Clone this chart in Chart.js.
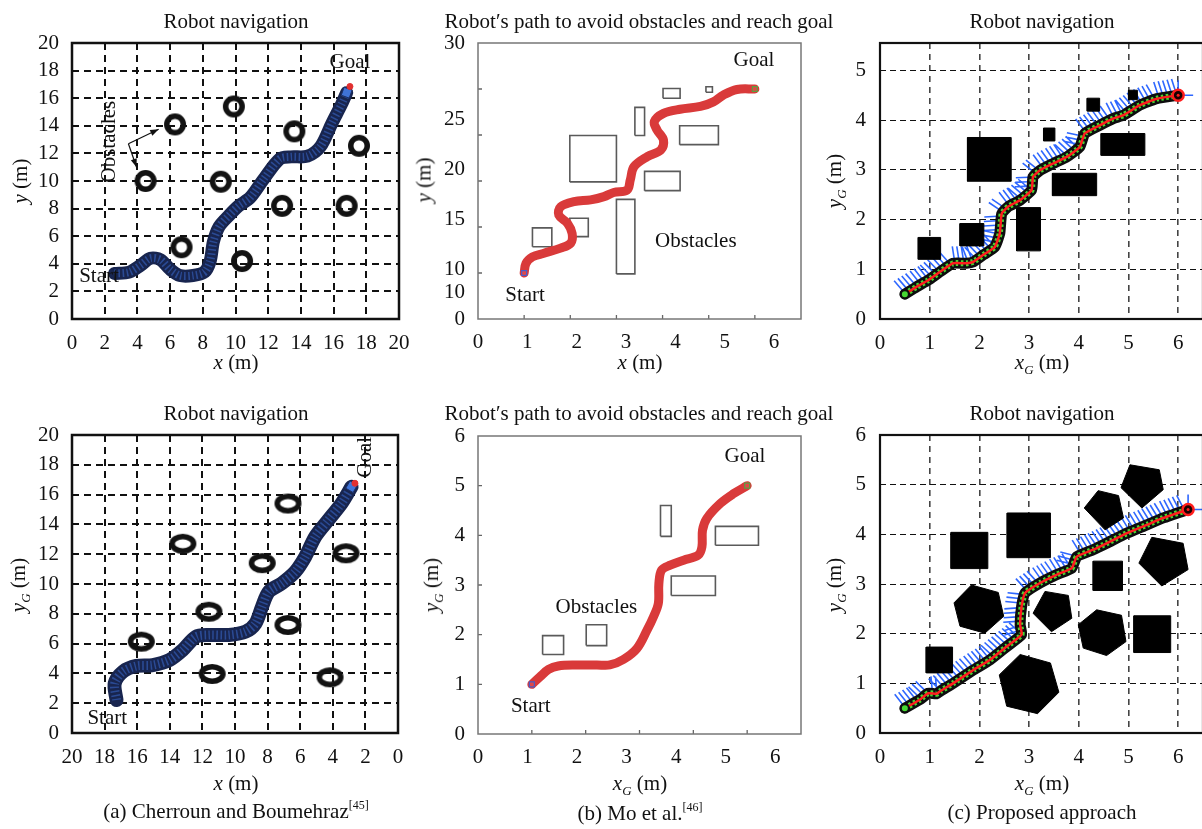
<!DOCTYPE html>
<html lang="en">
<head>
<meta charset="utf-8">
<title>Robot navigation</title>
<script src="https://cdn.jsdelivr.net/npm/chart.js@4.4.1/dist/chart.umd.min.js"></script>
<style>
  html, body { margin: 0; padding: 0; background: #fff; }
  body { position: relative; width: 1202px; height: 829px; overflow: hidden;
         font-family: "Liberation Serif", "Times New Roman", serif; color: #111; }
  canvas { position: absolute; }
  .lbl { position: absolute; font-size: 21px; line-height: 1; white-space: nowrap; transform: translate(-50%, -50%); }
  .rot { transform: translate(-50%, -50%) rotate(-90deg); }
  .lbl sub { font-size: 13px; vertical-align: -5px; }
  .lbl sup { font-size: 12px; vertical-align: 9px; }
</style>
</head>
<body>
<canvas id="aTop"></canvas>
<canvas id="bTop"></canvas>
<canvas id="cTop"></canvas>
<canvas id="aBot"></canvas>
<canvas id="bBot"></canvas>
<canvas id="cBot"></canvas>

<div class="lbl" style="left:236px;top:21px">Robot navigation</div>
<div class="lbl" style="left:639px;top:21px">Robot′s path to avoid obstacles and reach goal</div>
<div class="lbl" style="left:1042px;top:21px">Robot navigation</div>
<div class="lbl" style="left:236px;top:413px">Robot navigation</div>
<div class="lbl" style="left:639px;top:413px">Robot′s path to avoid obstacles and reach goal</div>
<div class="lbl" style="left:1042px;top:413px">Robot navigation</div>

<div class="lbl rot" style="left:20px;top:181px"><i>y</i> (m)</div>
<div class="lbl rot" style="left:424px;top:180px"><i>y</i> (m)</div>
<div class="lbl rot" style="left:836px;top:181px"><i>y<sub>G</sub></i> (m)</div>
<div class="lbl rot" style="left:20px;top:585px"><i>y<sub>G</sub></i> (m)</div>
<div class="lbl rot" style="left:433px;top:585px"><i>y<sub>G</sub></i> (m)</div>
<div class="lbl rot" style="left:836px;top:585px"><i>y<sub>G</sub></i> (m)</div>

<div class="lbl" style="left:236px;top:362px"><i>x</i> (m)</div>
<div class="lbl" style="left:640px;top:362px"><i>x</i> (m)</div>
<div class="lbl" style="left:1042px;top:364px"><i>x<sub>G</sub></i> (m)</div>
<div class="lbl" style="left:236px;top:783px"><i>x</i> (m)</div>
<div class="lbl" style="left:640px;top:785px"><i>x<sub>G</sub></i> (m)</div>
<div class="lbl" style="left:1042px;top:785px"><i>x<sub>G</sub></i> (m)</div>

<div class="lbl" style="left:236px;top:810px">(a) Cherroun and Boumehraz<sup>[45]</sup></div>
<div class="lbl" style="left:640px;top:812px">(b) Mo et al.<sup>[46]</sup></div>
<div class="lbl" style="left:1042px;top:812px">(c) Proposed approach</div>

<script>
// ---------- (a) ring obstacles, paths in metres ----------
const aTopRingX = [4.5, 6.3, 9.9, 9.1, 6.7, 10.4, 12.85, 13.6, 17.55, 16.8];
const aTopRingY = [10, 14.1, 15.4, 9.95, 5.2, 4.2, 8.2, 13.6, 12.55, 8.2];
const aTopPathX = [2.6, 3.5, 4.2, 4.8, 5.4, 6.0, 6.6, 7.4, 8.1, 8.45, 8.65, 9.0, 9.6, 10.2, 10.9, 11.7, 12.7, 13.4, 14.4, 15.2, 15.9, 16.5, 16.8];
const aTopPathY = [3.3, 3.4, 3.9, 4.4, 4.3, 3.6, 3.15, 3.15, 3.4, 4.2, 5.6, 6.7, 7.5, 8.2, 8.8, 10.1, 11.6, 11.75, 11.8, 12.5, 14.2, 15.6, 16.4];

const aBotRingX = [15.75, 13.2, 11.6, 11.4, 6.75, 8.33, 6.75, 3.19, 4.17];
const aBotRingY = [6.13, 12.7, 8.14, 3.96, 15.4, 11.4, 7.25, 12.06, 3.74];
const aBotPathX = [17.27, 17.38, 16.87, 16.05, 15.04, 14.02, 13.21, 12.4, 11.59, 10.37, 9.35, 8.74, 8.34, 7.93, 7.12, 6.3, 5.69, 5.08, 4.27, 3.46, 2.85];
const aBotPathY = [2.21, 3.33, 4.12, 4.5, 4.56, 4.9, 5.57, 6.46, 6.58, 6.58, 6.8, 7.36, 8.48, 9.48, 10.05, 10.83, 11.83, 13.17, 14.3, 15.42, 16.53];
const aTicks = [0, 2, 4, 6, 8, 10, 12, 14, 16, 18, 20];

// ---------- (b) outlined rectangles [x0, x1, y0, y1] ----------
const bTopRects = [[1.18, 1.6, 1.57, 1.98], [1.99, 2.39, 1.79, 2.19], [1.99, 3.0, 2.98, 3.99], [3.0, 3.4, 0.98, 2.6],
  [3.61, 4.38, 2.79, 3.21], [3.4, 3.61, 3.99, 4.6], [4.37, 5.21, 3.79, 4.2], [4.01, 4.38, 4.8, 5.01], [4.94, 5.08, 4.93, 5.05]];
const bTopPathX = [1, 1.04, 1.18, 1.43, 1.79, 2.01, 2.04, 1.94, 1.75, 1.79, 2.08, 2.44, 2.73, 2.94, 3.23, 3.3, 3.38, 3.67, 3.96, 4.02, 3.88, 3.82, 4.02, 4.38, 4.82, 5.1, 5.32, 5.61, 6.0];
const bTopPathY = [1, 1.21, 1.35, 1.43, 1.54, 1.65, 1.86, 2.08, 2.26, 2.44, 2.55, 2.59, 2.66, 2.75, 2.8, 3.02, 3.31, 3.53, 3.67, 3.89, 4.11, 4.29, 4.47, 4.56, 4.62, 4.72, 4.87, 4.99, 5.0];
const bTopYTickPos = [0, 2.93, 5.43, 10.87, 16.3, 21.74, 30];
const bTopYTickText = ['0', '10', '10', '15', '20', '25', '30'];
const bTopMarksX = [1, 2, 3, 4, 5, 6];
const bTopMarksY = [1, 2, 3, 4, 5];

const bBotRects = [[1.2, 1.59, 1.6, 1.98], [2.01, 2.39, 1.78, 2.2], [3.39, 3.59, 3.98, 4.6], [3.59, 4.41, 2.79, 3.18], [4.41, 5.21, 3.8, 4.18]];
const bBotPathX = [1, 1.15, 1.31, 1.49, 1.83, 2.21, 2.45, 2.7, 2.95, 3.14, 3.26, 3.35, 3.36, 3.41, 3.57, 3.82, 4.09, 4.16, 4.17, 4.25, 4.5, 4.75, 5.0];
const bBotPathY = [1, 1.15, 1.3, 1.37, 1.39, 1.39, 1.39, 1.5, 1.72, 2.09, 2.36, 2.63, 3.03, 3.3, 3.4, 3.5, 3.6, 3.77, 4.1, 4.34, 4.64, 4.84, 5.0];
const bBotMarksX = [1, 2, 3, 4, 5];
const bBotMarksY = [1, 2, 3, 4, 5];
const bLabelTicks = [0, 1, 2, 3, 4, 5, 6];

// ---------- (c) filled obstacles and planned path ----------
const cTopRects = [[0.77, 1.22, 1.2, 1.64], [1.61, 2.09, 1.47, 1.92], [1.76, 2.64, 2.77, 3.65], [2.75, 3.23, 1.37, 2.24],
  [3.47, 4.36, 2.48, 2.93], [3.29, 3.52, 3.58, 3.84], [4.17, 4.42, 4.18, 4.44], [4.45, 5.33, 3.29, 3.73], [5.0, 5.18, 4.41, 4.6]];
const cTopPathX = [0.5, 0.74, 0.97, 1.21, 1.47, 1.74, 1.88, 2.08, 2.31, 2.41, 2.45, 2.58, 2.82, 3.05, 3.08, 3.22, 3.49, 3.76, 4.02, 4.12, 4.43, 4.69, 4.9, 5.23, 5.57, 6.0];
const cTopPathY = [0.5, 0.65, 0.78, 0.95, 1.12, 1.12, 1.15, 1.29, 1.45, 1.72, 2.12, 2.26, 2.39, 2.59, 2.86, 2.99, 3.13, 3.26, 3.46, 3.73, 3.9, 4.03, 4.1, 4.3, 4.43, 4.5];

const cBotRects = [[0.93, 1.46, 1.21, 1.73], [1.43, 2.17, 3.31, 4.04], [2.56, 3.43, 3.53, 4.43], [4.29, 4.88, 2.87, 3.46], [5.11, 5.85, 1.62, 2.36]];
const cBotPolys = [
  [[4.39, 4.88], [4.8, 4.78], [4.9, 4.33], [4.53, 4.09], [4.11, 4.53]],
  [[5.03, 5.4], [5.62, 5.3], [5.7, 4.9], [5.27, 4.53], [4.85, 4.94]],
  [[5.47, 3.94], [6.1, 3.82], [6.2, 3.29], [5.67, 2.96], [5.21, 3.42]],
  [[1.84, 2.98], [2.38, 2.83], [2.49, 2.35], [2.11, 2.01], [1.61, 2.15], [1.49, 2.62]],
  [[3.32, 2.85], [3.79, 2.77], [3.86, 2.31], [3.45, 2.04], [3.08, 2.41]],
  [[4.36, 2.48], [4.86, 2.37], [4.95, 1.84], [4.56, 1.56], [4.09, 1.71], [3.99, 2.18]],
  [[2.82, 1.58], [3.43, 1.41], [3.6, 0.82], [3.17, 0.39], [2.55, 0.54], [2.4, 1.17]]
];
const cBotPathX = [0.5, 0.8, 0.97, 1.14, 1.21, 1.47, 1.88, 2.21, 2.55, 2.85, 2.82, 2.85, 2.92, 3.22, 3.56, 3.86, 3.96, 4.29, 4.56, 4.96, 5.37, 5.7, 6.2];
const cBotPathY = [0.5, 0.67, 0.8, 0.79, 0.84, 1.0, 1.27, 1.47, 1.74, 1.98, 2.18, 2.55, 2.82, 3.02, 3.19, 3.32, 3.55, 3.69, 3.82, 4.02, 4.19, 4.33, 4.5];
const cTicksX = [0, 1, 2, 3, 4, 5, 6];
const cTopTicksY = [0, 1, 2, 3, 4, 5];
const cBotTicksY = [0, 1, 2, 3, 4, 5, 6];

// ---------- helpers ----------
const PAD_L = 70, PAD_T = 12, PAD_R = 12, AXIS_H = 40;
Chart.defaults.font.family = '"Liberation Serif", "Times New Roman", serif';
Chart.defaults.font.size = 21;
Chart.defaults.color = '#111';

const pairs = (xs, ys) => xs.map((x, i) => ({ x, y: ys[i] }));
const closed = pts => pts.concat([pts[0]]).map(([x, y]) => ({ x, y }));
const rectPts = ([x0, x1, y0, y1]) => closed([[x0, y0], [x1, y0], [x1, y1], [x0, y1]]);

function ringImage(w, h, t) {
  const c = document.createElement('canvas');
  c.width = w + 4; c.height = h + 4;
  const g = c.getContext('2d');
  g.filter = 'blur(0.6px)';
  g.strokeStyle = '#121212';
  g.lineWidth = t;
  g.beginPath();
  g.ellipse(c.width / 2, c.height / 2, (w - t) / 2, (h - t) / 2, 0, 0, Math.PI * 2);
  g.stroke();
  return c;
}

function axis(min, max, tickVals, o = {}) {
  return {
    type: 'linear', min, max, reverse: !!o.reverse, display: o.display !== false,
    afterBuildTicks: s => { s.ticks = tickVals.map(v => ({ value: v })); },
    ticks: { autoSkip: false, maxRotation: 0, padding: o.pad || 12, callback: o.text ? (v, i) => o.text[i] : v => String(v) },
    grid: o.grid ? Object.assign({ drawTicks: false }, o.grid) : { display: false, drawTicks: false },
    border: { display: false, dash: o.dash || [] }
  };
}

const path = (xs, ys, color, width, extra) => Object.assign({
  data: pairs(xs, ys), showLine: true, borderColor: color, borderWidth: width, pointRadius: 0,
  tension: 0.35, borderCapStyle: 'round', borderJoinStyle: 'round'
}, extra || {});

const shape = (pts, stroke, fillColor, width) => ({
  data: pts, showLine: true, borderColor: stroke, borderWidth: width, pointRadius: 0, tension: 0,
  backgroundColor: fillColor || 'transparent', fill: fillColor ? 'shape' : false
});

const marker = (x, y, style, r, fillColor, stroke, bw, rot) => ({
  data: [{ x, y }], pointStyle: style, pointRadius: r, backgroundColor: fillColor,
  borderColor: stroke, borderWidth: bw, pointRotation: rot || 0
});

// per-chart drawing: frame, inner tick marks, notes, arrows, hatching along a path
function decor(o) {
  return {
    id: 'decor',
    beforeDatasetsDraw(chart) {
      if (!o.hatch) return;
      const { ctx } = chart;
      const pts = chart.getDatasetMeta(o.hatch.index).data.map(p => [p.x, p.y]);
      ctx.save();
      ctx.strokeStyle = o.hatch.color;
      ctx.lineWidth = 1.6;
      ctx.beginPath();
      let carry = 0;
      for (let i = 1; i < pts.length; i++) {
        const [x0, y0] = pts[i - 1], [x1, y1] = pts[i];
        const len = Math.hypot(x1 - x0, y1 - y0);
        if (!len) continue;
        const ux = (x1 - x0) / len, uy = (y1 - y0) / len;
        const nx = uy, ny = -ux;
        let s = carry;
        while (s < len) {
          const px = x0 + ux * s, py = y0 + uy * s;
          ctx.moveTo(px + nx * 4, py + ny * 4);
          ctx.lineTo(px + nx * 17 - ux * 2, py + ny * 17 - uy * 2);
          s += o.hatch.step;
        }
        carry = s - len;
      }
      const [gx, gy] = pts[pts.length - 1];
      ctx.moveTo(gx, gy); ctx.lineTo(gx + 15, gy);
      ctx.moveTo(gx, gy); ctx.lineTo(gx, gy - 15);
      ctx.stroke();
      ctx.restore();
    },
    afterDatasetsDraw(chart) {
      const { ctx, chartArea: a, scales } = chart;
      const sx = scales[o.xScale || 'x'], sy = scales[o.yScale || 'y'];
      ctx.save();
      if (o.marks) {
        ctx.strokeStyle = '#666';
        ctx.lineWidth = 1.3;
        ctx.beginPath();
        o.marks.x.forEach(v => { const p = sx.getPixelForValue(v); ctx.moveTo(p, a.bottom); ctx.lineTo(p, a.bottom - 4); });
        o.marks.y.forEach(v => { const p = sy.getPixelForValue(v); ctx.moveTo(a.left, p); ctx.lineTo(a.left + 4, p); });
        ctx.stroke();
      }
      (o.arrows || []).forEach(ar => {
        const x0 = sx.getPixelForValue(ar.from[0]), y0 = sy.getPixelForValue(ar.from[1]);
        const x1 = sx.getPixelForValue(ar.to[0]), y1 = sy.getPixelForValue(ar.to[1]);
        const ang = Math.atan2(y1 - y0, x1 - x0);
        ctx.strokeStyle = '#111'; ctx.fillStyle = '#111'; ctx.lineWidth = 1.2;
        ctx.beginPath(); ctx.moveTo(x0, y0); ctx.lineTo(x1, y1); ctx.stroke();
        ctx.beginPath();
        ctx.moveTo(x1, y1);
        ctx.lineTo(x1 - 9 * Math.cos(ang - 0.35), y1 - 9 * Math.sin(ang - 0.35));
        ctx.lineTo(x1 - 9 * Math.cos(ang + 0.35), y1 - 9 * Math.sin(ang + 0.35));
        ctx.closePath(); ctx.fill();
      });
      (o.notes || []).forEach(n => {
        ctx.save();
        ctx.translate(sx.getPixelForValue(n.x), sy.getPixelForValue(n.y));
        ctx.rotate((n.rot || 0) * Math.PI / 180);
        ctx.font = '21px "Liberation Serif", "Times New Roman", serif';
        ctx.fillStyle = '#111';
        ctx.textAlign = 'center';
        ctx.textBaseline = 'middle';
        ctx.fillText(n.text, 0, 0);
        ctx.restore();
      });
      if (o.frame) {
        ctx.strokeStyle = o.frame.color;
        ctx.lineWidth = o.frame.width;
        ctx.strokeRect(a.left, a.top, a.right - a.left, a.bottom - a.top);
      }
      ctx.restore();
    }
  };
}

function panel(id, box, scales, datasets, deco) {
  const cv = document.getElementById(id);
  cv.width = box.r - box.l + PAD_L + PAD_R;
  cv.height = box.b - box.t + PAD_T + AXIS_H;
  cv.style.left = (box.l - PAD_L) + 'px';
  cv.style.top = (box.t - PAD_T) + 'px';
  // fixed axis sizes, and no extra room reserved for overhanging end labels
  scales.x.afterFit = s => { s.height = AXIS_H; s.paddingLeft = 0; s.paddingRight = 0; };
  scales.y.afterFit = s => { s.width = PAD_L; s.paddingTop = 0; s.paddingBottom = 0; };
  // later datasets are painted over earlier ones
  datasets.forEach((ds, i) => { ds.order = datasets.length - i; });
  return new Chart(cv, {
    type: 'scatter',
    data: { datasets },
    options: {
      responsive: false, animation: false, events: [], devicePixelRatio: 1,
      layout: { padding: { left: 0, top: PAD_T, right: PAD_R, bottom: 0 }, autoPadding: false },
      plugins: { legend: { display: false }, tooltip: { enabled: false } },
      scales
    },
    plugins: [decor(deco)]
  });
}

const aGrid = { color: '#111', lineWidth: 2 };
const aDash = [7, 5];

// (a) top
panel('aTop', { l: 72, t: 43, r: 399, b: 319 }, {
  x: axis(0, 20, aTicks, { grid: aGrid, dash: aDash }),
  y: axis(0, 20, aTicks, { grid: aGrid, dash: aDash, pad: 13 })
}, [
  path(aTopPathX, aTopPathY, '#18254f', 13, { tension: 0.3 }),
  path(aTopPathX, aTopPathY, 'rgba(58,105,205,0.55)', 8, { tension: 0.3, borderDash: [1.5, 2.5], borderCapStyle: 'butt' }),
  marker(16.8, 16.4, 'rect', 6, '#3f73d8', '#1b2f66', 1, 20),
  marker(17.0, 16.85, 'circle', 3, '#e23030', '#e23030', 1),
  { data: pairs(aTopRingX, aTopRingY), pointStyle: ringImage(22, 22, 5.5), pointRadius: 11 }
], {
  frame: { color: '#111', width: 2.5 },
  notes: [{ text: 'Goal', x: 17.0, y: 18.6 }, { text: 'Start', x: 1.65, y: 3.1 }, { text: 'Obstacles', x: 2.32, y: 12.85, rot: -90 }],
  arrows: [{ from: [3.45, 12.7], to: [5.3, 13.75] }, { from: [3.45, 12.7], to: [3.95, 11.0] }]
});

// (a) bottom, x axis runs from 20 down to 0
panel('aBot', { l: 72, t: 435, r: 398, b: 733 }, {
  x: axis(0, 20, aTicks, { grid: aGrid, dash: aDash, reverse: true }),
  y: axis(0, 20, aTicks, { grid: aGrid, dash: aDash, pad: 13 })
}, [
  path(aBotPathX, aBotPathY, '#18254f', 14, { tension: 0.3 }),
  path(aBotPathX, aBotPathY, 'rgba(58,105,205,0.55)', 9, { tension: 0.3, borderDash: [1.5, 2.5], borderCapStyle: 'butt' }),
  marker(2.85, 16.53, 'rect', 6, '#3f73d8', '#1b2f66', 1, 30),
  marker(2.64, 16.76, 'circle', 3, '#e23030', '#e23030', 1),
  { data: pairs(aBotRingX, aBotRingY), pointStyle: ringImage(27, 20, 5.5), pointRadius: 12 }
], {
  frame: { color: '#111', width: 2.5 },
  notes: [{ text: 'Goal', x: 2.0, y: 18.5, rot: -90 }, { text: 'Start', x: 17.84, y: 1.0 }]
});

// (b) top: label axes plus hidden metric axes for the marks
const bTopScales = {
  x: axis(0, 6.545, bLabelTicks, { pad: 11 }),
  y: axis(0, 30, bTopYTickPos, { text: bTopYTickText, pad: 13 }),
  xd: { type: 'linear', min: 0, max: 7, display: false },
  yd: { type: 'linear', min: 0, max: 6, display: false }
};
const onB = ds => Object.assign(ds, { xAxisID: 'xd', yAxisID: 'yd' });
panel('bTop', { l: 478, t: 43, r: 801, b: 319 }, bTopScales, [
  ...bTopRects.map(r => onB(shape(rectPts(r), '#5a5a5a', null, 1.6))),
  onB(path(bTopPathX, bTopPathY, '#d93a3a', 9)),
  onB(marker(1, 1, 'rect', 3.5, '#e04848', '#4a5cc8', 1.2)),
  onB(marker(6.0, 5.0, 'rect', 3.5, '#e04848', '#5aa040', 1.2))
], {
  xScale: 'xd', yScale: 'yd',
  frame: { color: '#777', width: 1.5 },
  marks: { x: bTopMarksX, y: bTopMarksY },
  notes: [{ text: 'Goal', x: 5.98, y: 5.63 }, { text: 'Start', x: 1.02, y: 0.52 }, { text: 'Obstacles', x: 4.72, y: 1.68 }]
});

// (b) bottom
panel('bBot', { l: 478, t: 436, r: 801, b: 734 }, {
  x: axis(0, 6.52, bLabelTicks, { pad: 11 }),
  y: axis(0, 6, bLabelTicks, { pad: 13 }),
  xd: { type: 'linear', min: 0, max: 6, display: false }
}, [
  ...bBotRects.map(r => Object.assign(shape(rectPts(r), '#5a5a5a', null, 1.6), { xAxisID: 'xd' })),
  Object.assign(path(bBotPathX, bBotPathY, '#d93a3a', 9), { xAxisID: 'xd' }),
  Object.assign(marker(1, 1, 'rect', 3.5, '#e04848', '#4a5cc8', 1.2), { xAxisID: 'xd' }),
  Object.assign(marker(5, 5, 'rect', 3.5, '#e04848', '#5aa040', 1.2), { xAxisID: 'xd' })
], {
  xScale: 'xd', yScale: 'y',
  frame: { color: '#777', width: 1.5 },
  marks: { x: bBotMarksX, y: bBotMarksY },
  notes: [{ text: 'Goal', x: 4.96, y: 5.58 }, { text: 'Start', x: 0.98, y: 0.55 }, { text: 'Obstacles', x: 2.2, y: 2.55 }]
});

// (c) proposed approach
function cLayers(xs, ys) {
  return [
    path(xs, ys, '#0d0d0d', 11, { tension: 0.15 }),
    path(xs, ys, '#46d832', 6, { tension: 0.15, borderDash: [2.5, 2.5], borderCapStyle: 'butt' }),
    path(xs, ys, '#ff1d1d', 2.5, { tension: 0.15 }),
    marker(xs[0], ys[0], 'circle', 4, '#46d832', '#0d0d0d', 2),
    marker(xs[xs.length - 1], ys[ys.length - 1], 'circle', 5.5, '#1a0000', '#ff1d1d', 2.5),
    marker(xs[xs.length - 1], ys[ys.length - 1], 'circle', 1.5, '#ff1d1d', '#ff1d1d', 0)
  ];
}
const cGridX = { color: '#444', lineWidth: 1.6 };
const cGridY = { color: '#111', lineWidth: 1 };

const cTopData = cTopRects.map(r => shape(rectPts(r), '#000', '#000', 1));
const cTopPathIdx = cTopData.length;
panel('cTop', { l: 880, t: 43, r: 1203, b: 319 }, {
  x: axis(0, 6.5, cTicksX, { grid: cGridX, dash: [6, 5] }),
  y: axis(0, 5.55, cTopTicksY, { grid: cGridY, dash: [6, 4], pad: 14 })
}, cTopData.concat(cLayers(cTopPathX, cTopPathY)), {
  frame: { color: '#111', width: 2.2 },
  hatch: { index: cTopPathIdx, color: 'rgba(35,95,255,0.95)', step: 4.5 }
});

const cBotData = cBotRects.map(r => shape(rectPts(r), '#000', '#000', 1))
  .concat(cBotPolys.map(p => shape(closed(p), '#000', '#000', 1)));
const cBotPathIdx = cBotData.length;
panel('cBot', { l: 880, t: 435, r: 1203, b: 733 }, {
  x: axis(0, 6.5, cTicksX, { grid: cGridX, dash: [6, 5] }),
  y: axis(0, 6, cBotTicksY, { grid: cGridY, dash: [6, 4], pad: 14 })
}, cBotData.concat(cLayers(cBotPathX, cBotPathY)), {
  frame: { color: '#111', width: 2.2 },
  hatch: { index: cBotPathIdx, color: 'rgba(35,95,255,0.95)', step: 4.5 }
});
</script>
</body>
</html>
